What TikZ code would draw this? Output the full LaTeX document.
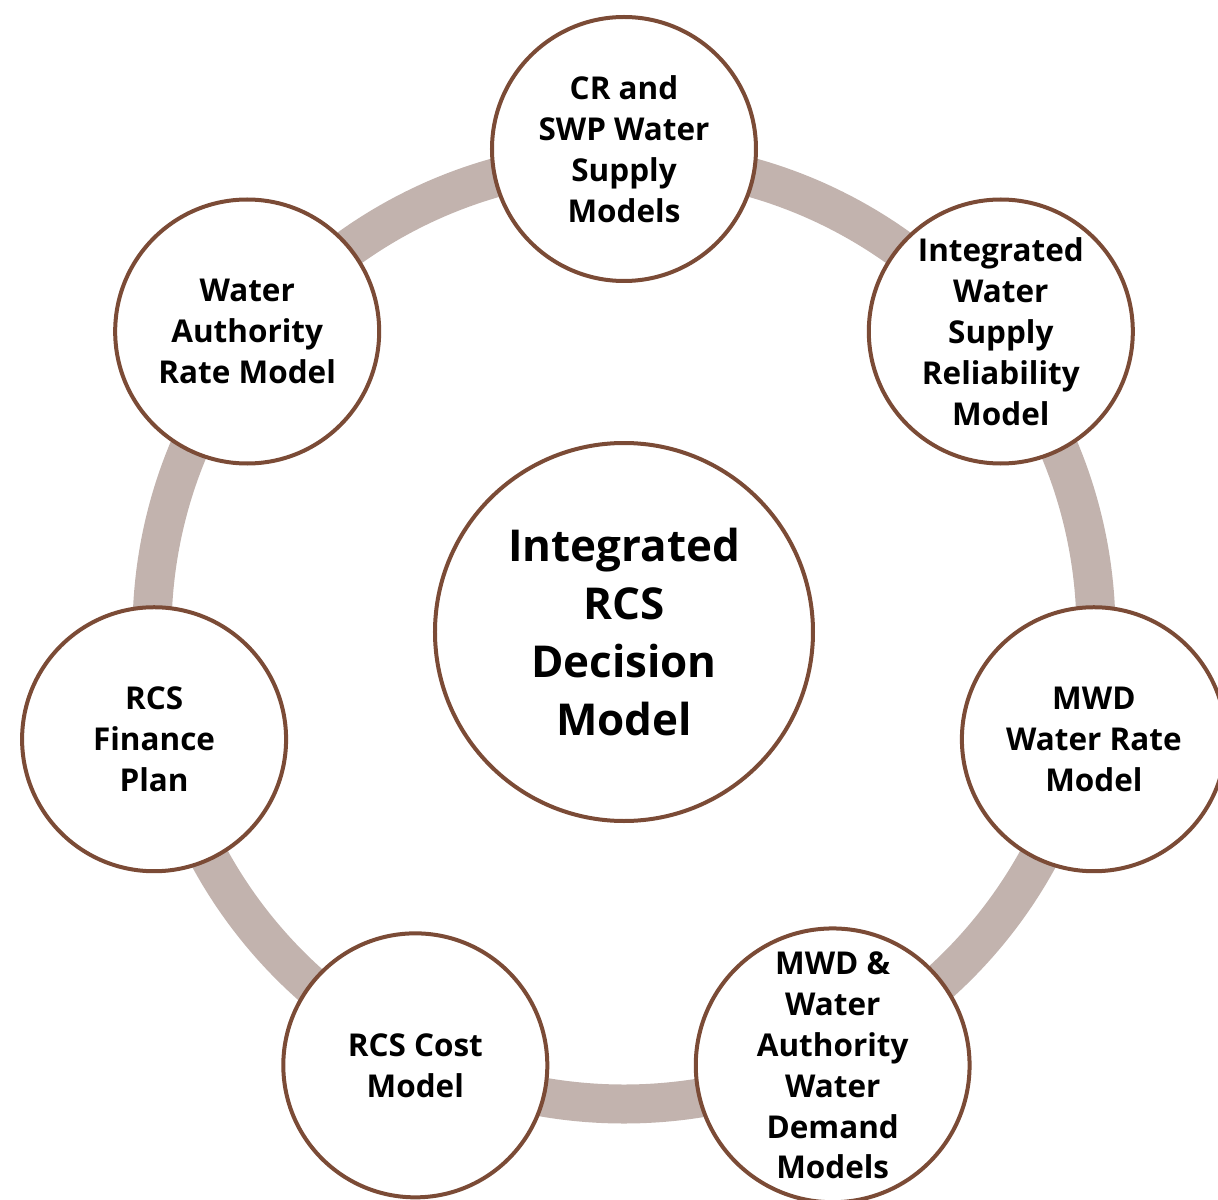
\documentclass[tikz,border=0pt]{standalone}
\usepackage{fontspec}
\setmainfont{Open Sans}
\usepackage{tikz}
\usetikzlibrary{positioning}
\definecolor{ringgray}{HTML}{C2B3AE}
\definecolor{rimbrown}{HTML}{7B4B36}
\tikzstyle{ring} = [draw=ringgray, line width=0.78cm]
\tikzstyle{model} = [circle, draw=rimbrown, line width=0.08cm, fill=white, minimum size=5.28cm, inner sep=0pt, align=center, font=\fontsize{17.9}{23.3}\selectfont\bfseries]
\tikzstyle{core} = [model, minimum size=7.56cm, font=\fontsize{25}{33}\selectfont\bfseries]

\begin{document}
\begin{tikzpicture}

   % page frame, outer circles run off the right and bottom edge
   \useasboundingbox (-12.48,-11.34) rectangle (11.88,12.64);

   % thick ring that links the seven models
   \coordinate (hub) at (0,0);
   \draw[ring] (hub) circle (9.44);

   % decision model in the middle
   \node[core] (decision) at (hub) {Integrated\\RCS\\Decision\\Model};

   % the seven models round the ring
   \node[model] (supply)  at (90:9.66)       {CR and\\SWP Water\\Supply\\Models};
   \node[model] (reliab)  at (38.571:9.64)   {Integrated\\Water\\Supply\\Reliability\\Model};
   \node[model] (mwdrate) at (-12.857:9.64)  {MWD\\Water Rate\\Model};
   \node[model] (demand)  at (-64.286:9.62)  {MWD \&\\Water\\Authority\\Water\\Demand\\Models};
   \node[model] (cost)    at (-115.714:9.62) {RCS Cost\\Model};
   \node[model] (finance) at (-167.143:9.64) {RCS\\Finance\\Plan};
   \node[model] (warate)  at (141.429:9.64)  {Water\\Authority\\Rate Model};

\end{tikzpicture}
\end{document}
